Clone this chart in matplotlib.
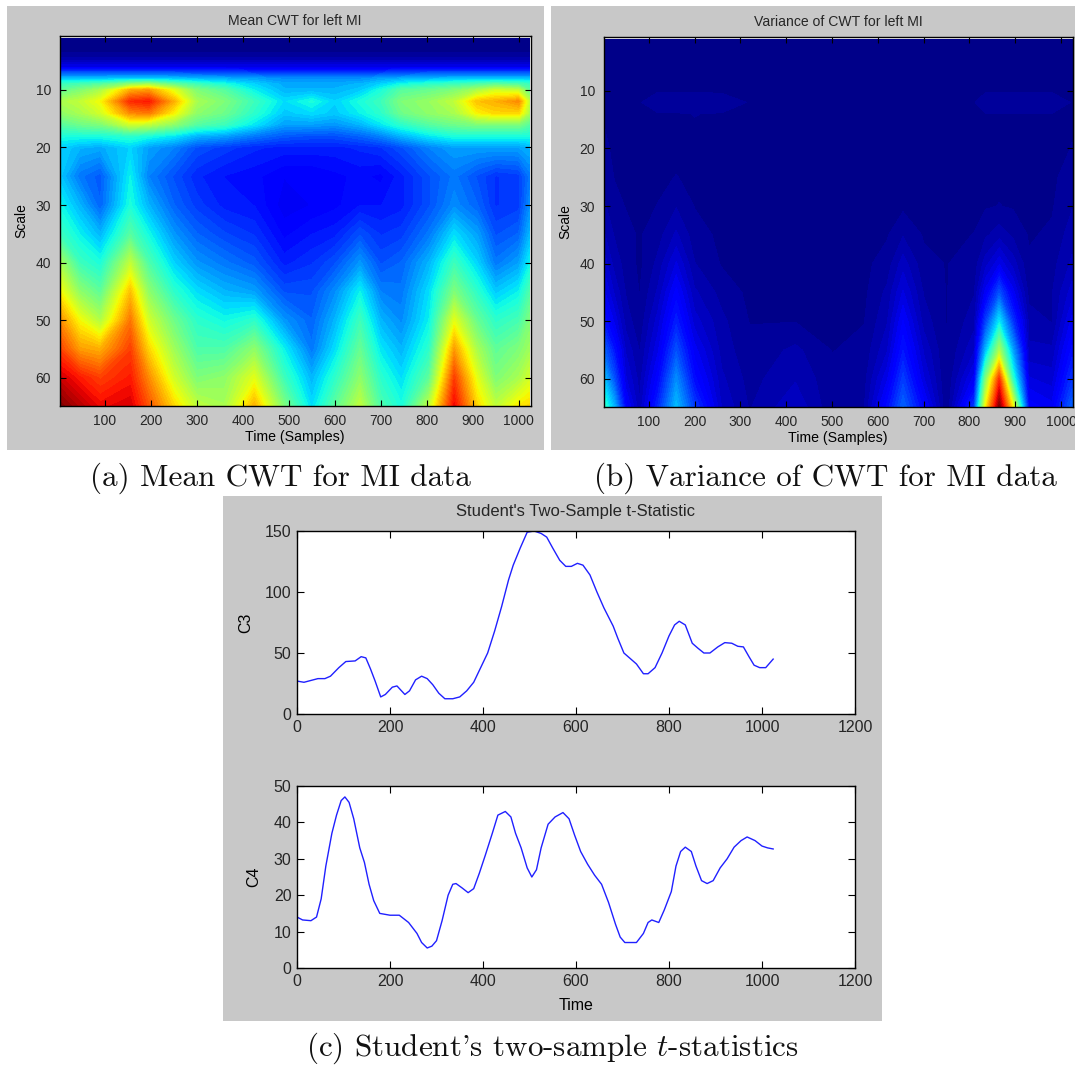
import numpy as np
import matplotlib
matplotlib.use('Agg')
import matplotlib.pyplot as plt
from matplotlib.patches import Rectangle

W, H = 1075, 1066

# mean CWT
mean_times = [1, 45, 90, 155, 195, 250, 300, 360, 425, 490, 550, 600, 655, 700, 745, 805, 860, 910, 950, 1000, 1024]
mean_scales = [1, 4, 6, 7, 8, 9, 10, 12, 14, 16, 18, 20, 25, 30, 35, 40, 45, 50, 55, 60, 65]
mean_cwt = [
    [.00, .00, .00, .00, .00, .00, .00, .00, .00, .00, .00, .00, .00, .00, .00, .00, .00, .00, .00, .00, .00],
    [.02, .02, .02, .02, .02, .02, .02, .02, .02, .02, .02, .02, .02, .02, .02, .02, .02, .02, .02, .02, .02],
    [.09, .09, .09, .09, .09, .09, .09, .09, .09, .09, .09, .09, .09, .09, .09, .09, .09, .09, .09, .09, .09],
    [.20, .20, .20, .20, .20, .20, .19, .19, .18, .17, .17, .17, .17, .18, .19, .20, .20, .20, .20, .20, .20],
    [.31, .31, .31, .32, .32, .31, .30, .29, .28, .26, .26, .26, .26, .28, .29, .30, .31, .31, .31, .31, .31],
    [.42, .43, .45, .52, .54, .47, .42, .38, .33, .29, .29, .29, .30, .33, .37, .40, .42, .44, .46, .44, .42],
    [.46, .50, .55, .72, .74, .62, .50, .45, .36, .30, .30, .30, .32, .38, .45, .47, .50, .55, .60, .58, .46],
    [.55, .58, .64, .86, .88, .72, .55, .50, .42, .34, .38, .33, .38, .42, .50, .53, .58, .70, .72, .76, .58],
    [.52, .55, .60, .76, .78, .65, .52, .48, .40, .32, .34, .32, .36, .40, .48, .52, .55, .65, .68, .68, .55],
    [.45, .48, .50, .60, .58, .52, .45, .42, .35, .28, .28, .27, .30, .35, .40, .45, .48, .50, .50, .50, .45],
    [.38, .38, .38, .40, .38, .35, .30, .28, .24, .21, .20, .20, .22, .25, .30, .35, .38, .38, .38, .38, .38],
    [.33, .30, .29, .33, .28, .25, .20, .18, .16, .15, .15, .15, .16, .17, .20, .25, .28, .28, .28, .28, .30],
    [.32, .24, .21, .36, .25, .20, .16, .14, .13, .11, .11, .12, .13, .12, .15, .20, .24, .20, .17, .18, .24],
    [.37, .30, .22, .38, .30, .22, .18, .15, .14, .10, .11, .12, .14, .14, .15, .20, .26, .22, .17, .18, .26],
    [.42, .36, .30, .45, .37, .27, .22, .19, .17, .12, .14, .15, .20, .17, .18, .24, .34, .28, .20, .22, .30],
    [.55, .42, .38, .58, .44, .33, .27, .24, .21, .15, .17, .20, .27, .20, .22, .30, .42, .33, .24, .28, .36],
    [.65, .52, .46, .70, .52, .40, .34, .30, .28, .20, .20, .26, .36, .25, .24, .34, .50, .40, .32, .36, .44],
    [.76, .64, .56, .78, .60, .48, .40, .37, .40, .27, .22, .30, .42, .30, .26, .36, .62, .47, .40, .43, .50],
    [.84, .74, .72, .84, .68, .54, .44, .44, .52, .36, .24, .34, .47, .35, .30, .40, .74, .55, .46, .50, .54],
    [.93, .88, .84, .88, .76, .60, .50, .52, .62, .42, .30, .40, .52, .40, .34, .46, .84, .62, .50, .55, .60],
    [1.0, .95, .90, .92, .82, .68, .58, .55, .72, .50, .34, .46, .58, .44, .38, .58, .90, .68, .58, .66, .68],
]

# variance of CWT
var_times = [1, 25, 50, 80, 120, 160, 200, 260, 320, 420, 500, 570, 620, 655, 700, 750, 810, 835, 865, 895, 930, 980, 1024]
var_scales = [1, 10, 12, 14, 20, 25, 30, 35, 40, 45, 50, 55, 60, 65]
var_cwt = [
    [.010, .010, .010, .010, .010, .010, .010, .010, .010, .010, .010, .010, .010, .010, .010, .010, .010, .010, .010, .010, .010, .010, .010],
    [.012, .012, .012, .012, .014, .014, .014, .012, .012, .012, .012, .012, .012, .012, .012, .012, .012, .013, .013, .013, .013, .013, .012],
    [.014, .014, .014, .014, .028, .028, .030, .028, .014, .014, .014, .014, .014, .014, .014, .014, .014, .030, .030, .030, .030, .030, .014],
    [.014, .014, .014, .014, .014, .014, .016, .014, .014, .014, .014, .014, .014, .014, .014, .014, .014, .015, .015, .015, .015, .015, .014],
    [.020, .012, .012, .012, .012, .012, .012, .012, .012, .012, .012, .012, .012, .012, .012, .012, .012, .012, .012, .012, .012, .012, .016],
    [.025, .015, .012, .012, .013, .016, .013, .012, .012, .012, .012, .012, .012, .012, .012, .012, .012, .012, .013, .012, .012, .012, .024],
    [.035, .020, .015, .012, .016, .030, .015, .012, .012, .012, .012, .012, .012, .012, .012, .012, .012, .014, .016, .014, .012, .014, .030],
    [.050, .030, .020, .014, .024, .050, .022, .012, .012, .012, .012, .012, .014, .030, .014, .012, .016, .028, .040, .028, .014, .018, .040],
    [.075, .040, .025, .012, .036, .080, .032, .014, .012, .012, .012, .012, .022, .055, .020, .015, .022, .055, .090, .055, .018, .025, .050],
    [.100, .060, .030, .015, .050, .115, .050, .025, .012, .012, .012, .012, .035, .080, .030, .015, .030, .100, .200, .100, .025, .030, .070],
    [.140, .090, .040, .020, .070, .150, .070, .035, .015, .015, .015, .015, .045, .110, .040, .015, .040, .180, .350, .170, .040, .030, .100],
    [.220, .140, .060, .030, .090, .200, .100, .040, .020, .035, .015, .020, .060, .140, .060, .015, .060, .300, .550, .280, .050, .050, .130],
    [.320, .200, .080, .040, .120, .260, .130, .050, .025, .045, .020, .025, .090, .180, .080, .015, .100, .500, .850, .400, .080, .070, .170],
    [.420, .300, .120, .050, .160, .310, .180, .060, .030, .060, .020, .030, .130, .220, .120, .015, .180, .650, 1.00, .650, .120, .100, .220],
]

# t-statistic traces
c3_time = [0, 15, 30, 45, 60, 72, 90, 105, 125, 138, 148, 158, 168, 180, 190, 205, 215, 232, 242, 255, 268, 280, 292, 305, 318, 335, 350, 365, 380, 395, 410, 425, 440, 455, 465, 480, 495, 510, 525, 537, 550, 565, 578, 590, 603, 615, 630, 645, 660, 680, 690, 703, 715, 730, 745, 755, 770, 785, 800, 812, 822, 835, 850, 862, 875, 888, 905, 920, 935, 948, 960, 972, 983, 995, 1008, 1024]
c3_vals = [27, 26, 27.5, 29, 29, 31, 38, 43, 43.5, 47, 46, 37, 27, 14, 16, 22, 23, 16, 19, 28, 31, 29, 24, 17, 12.5, 12.5, 14, 19, 26, 38, 50, 68, 88, 110, 122, 136, 149, 150, 148, 145, 136, 126, 121, 121, 123.5, 122, 114, 100, 87, 72, 62, 50, 46, 41, 33, 33, 38, 50, 64, 73, 76, 73, 58, 54, 50, 50, 55, 58.5, 58, 55.5, 55, 47, 40, 38, 38, 45]
c4_time = [0, 12, 30, 42, 52, 62, 75, 85, 95, 103, 112, 122, 135, 145, 155, 165, 178, 200, 220, 240, 258, 268, 280, 290, 300, 312, 325, 335, 342, 355, 368, 380, 392, 405, 420, 432, 448, 460, 470, 482, 495, 505, 515, 525, 540, 555, 572, 585, 597, 610, 625, 640, 655, 670, 685, 695, 705, 730, 745, 755, 763, 778, 790, 805, 815, 825, 835, 848, 858, 870, 882, 895, 910, 925, 940, 955, 968, 985, 1000, 1012, 1024]
c4_vals = [14, 13.2, 13, 14, 19, 28, 37, 42, 46, 47, 45.5, 41, 33, 29, 23, 18.5, 15, 14.5, 14.5, 12.5, 9.5, 7, 5.5, 6, 7.5, 13, 20, 23, 23.2, 22, 20.7, 21.8, 26, 31, 37, 42, 43, 41.5, 37, 33, 27.5, 25, 27, 33, 39.5, 41.5, 42.7, 41, 36.5, 32, 28.5, 25.5, 23, 18, 12, 8.5, 7, 7, 9.5, 12.5, 13.2, 12.5, 16, 21, 28, 32, 33.2, 32, 28, 24, 23.2, 24, 27.5, 30, 33.2, 35, 36, 35, 33.5, 33, 32.7]

heat_xticks = [100, 200, 300, 400, 500, 600, 700, 800, 900, 1000]
heat_yticks = [10, 20, 30, 40, 50, 60]
line_xticks = [0, 200, 400, 600, 800, 1000, 1200]

plt.rcParams['font.family'] = ['Liberation Sans', 'DejaVu Sans']
plt.rcParams['mathtext.fontset'] = 'cm'
plt.rcParams['text.color'] = '#262626'
plt.rcParams['xtick.labelcolor'] = '#262626'
plt.rcParams['ytick.labelcolor'] = '#262626'

fig = plt.figure(figsize=(W / 100, H / 100), dpi=100, facecolor='white')


def px_axes(left, top, right, bottom):
    return fig.add_axes([left / W, 1 - bottom / H, (right - left) / W, (bottom - top) / H])


def gray_box(left, top, right, bottom):
    fig.add_artist(Rectangle((left / W, 1 - bottom / H), (right - left) / W, (bottom - top) / H,
                             transform=fig.transFigure, color='#c8c8c8', lw=0, zorder=-5))


def style_ticks(ax, size, length, pad):
    ax.tick_params(direction='in', top=True, right=True, length=length, width=0.8,
                   labelsize=size, pad=pad)
    for s in ax.spines.values():
        s.set_linewidth(1.0)


def heat_panel(box, times, scales, values, title):
    ax = px_axes(*box)
    ax.contourf(times, scales, values, levels=np.linspace(0, 1, 65), cmap='jet', vmin=0, vmax=1,
                antialiased=False)
    ax.set_xlim(1.2, 1026)
    ax.set_ylim(64.9, 0.55)
    ax.set_xticks(heat_xticks)
    ax.set_yticks(heat_yticks)
    style_ticks(ax, 10, 4, 6)
    ax.set_xlabel('Time (Samples)', fontsize=10.2, labelpad=1)
    ax.set_ylabel('Scale', fontsize=10, labelpad=5)
    ax.set_title(title, fontsize=10.1, pad=7.5)
    return ax


gray_box(7, 6, 544, 450)
gray_box(551, 6, 1075, 450)
gray_box(223, 496, 882, 1021)

heat_panel((59.5, 35.5, 530.5, 406), mean_times, mean_scales, mean_cwt, 'Mean CWT for left MI')
heat_panel((603.5, 36.5, 1073, 407), var_times, var_scales, var_cwt, 'Variance of CWT for left MI')

ax3 = px_axes(297, 531, 855, 714)
ax3.plot(c3_time, c3_vals, color='#2020ff', lw=1.0)
ax3.set_xlim(0, 1200)
ax3.set_ylim(0, 150)
ax3.set_xticks(line_xticks)
ax3.set_yticks([0, 50, 100, 150])
style_ticks(ax3, 11.5, 5, 4)
ax3.set_ylabel('C3', fontsize=11.5, labelpad=8)
ax3.set_title("Student's Two-Sample t-Statistic", fontsize=12, pad=11)

ax4 = px_axes(297, 786, 855, 968)
ax4.plot(c4_time, c4_vals, color='#2020ff', lw=1.0)
ax4.set_xlim(0, 1200)
ax4.set_ylim(0, 50)
ax4.set_xticks(line_xticks)
ax4.set_yticks([0, 10, 20, 30, 40, 50])
style_ticks(ax4, 11.5, 5, 4)
ax4.set_xlabel('Time', fontsize=11.5, labelpad=7)
ax4.set_ylabel('C4', fontsize=11.5, labelpad=9)

# captions in the LaTeX look of the paper
cap = dict(ha='center', va='center', fontsize=22.4, color='#111111', family='cmr10')
fig.text(280 / W, 1 - 478 / H, '(a) Mean CWT for MI data', **cap)
fig.text(825 / W, 1 - 478 / H, '(b) Variance of CWT for MI data', **cap)
fig.text(552 / W, 1 - 1048 / H, "(c) Student's two-sample $t$-statistics", **cap)

fig.savefig('out.png', dpi=100)
